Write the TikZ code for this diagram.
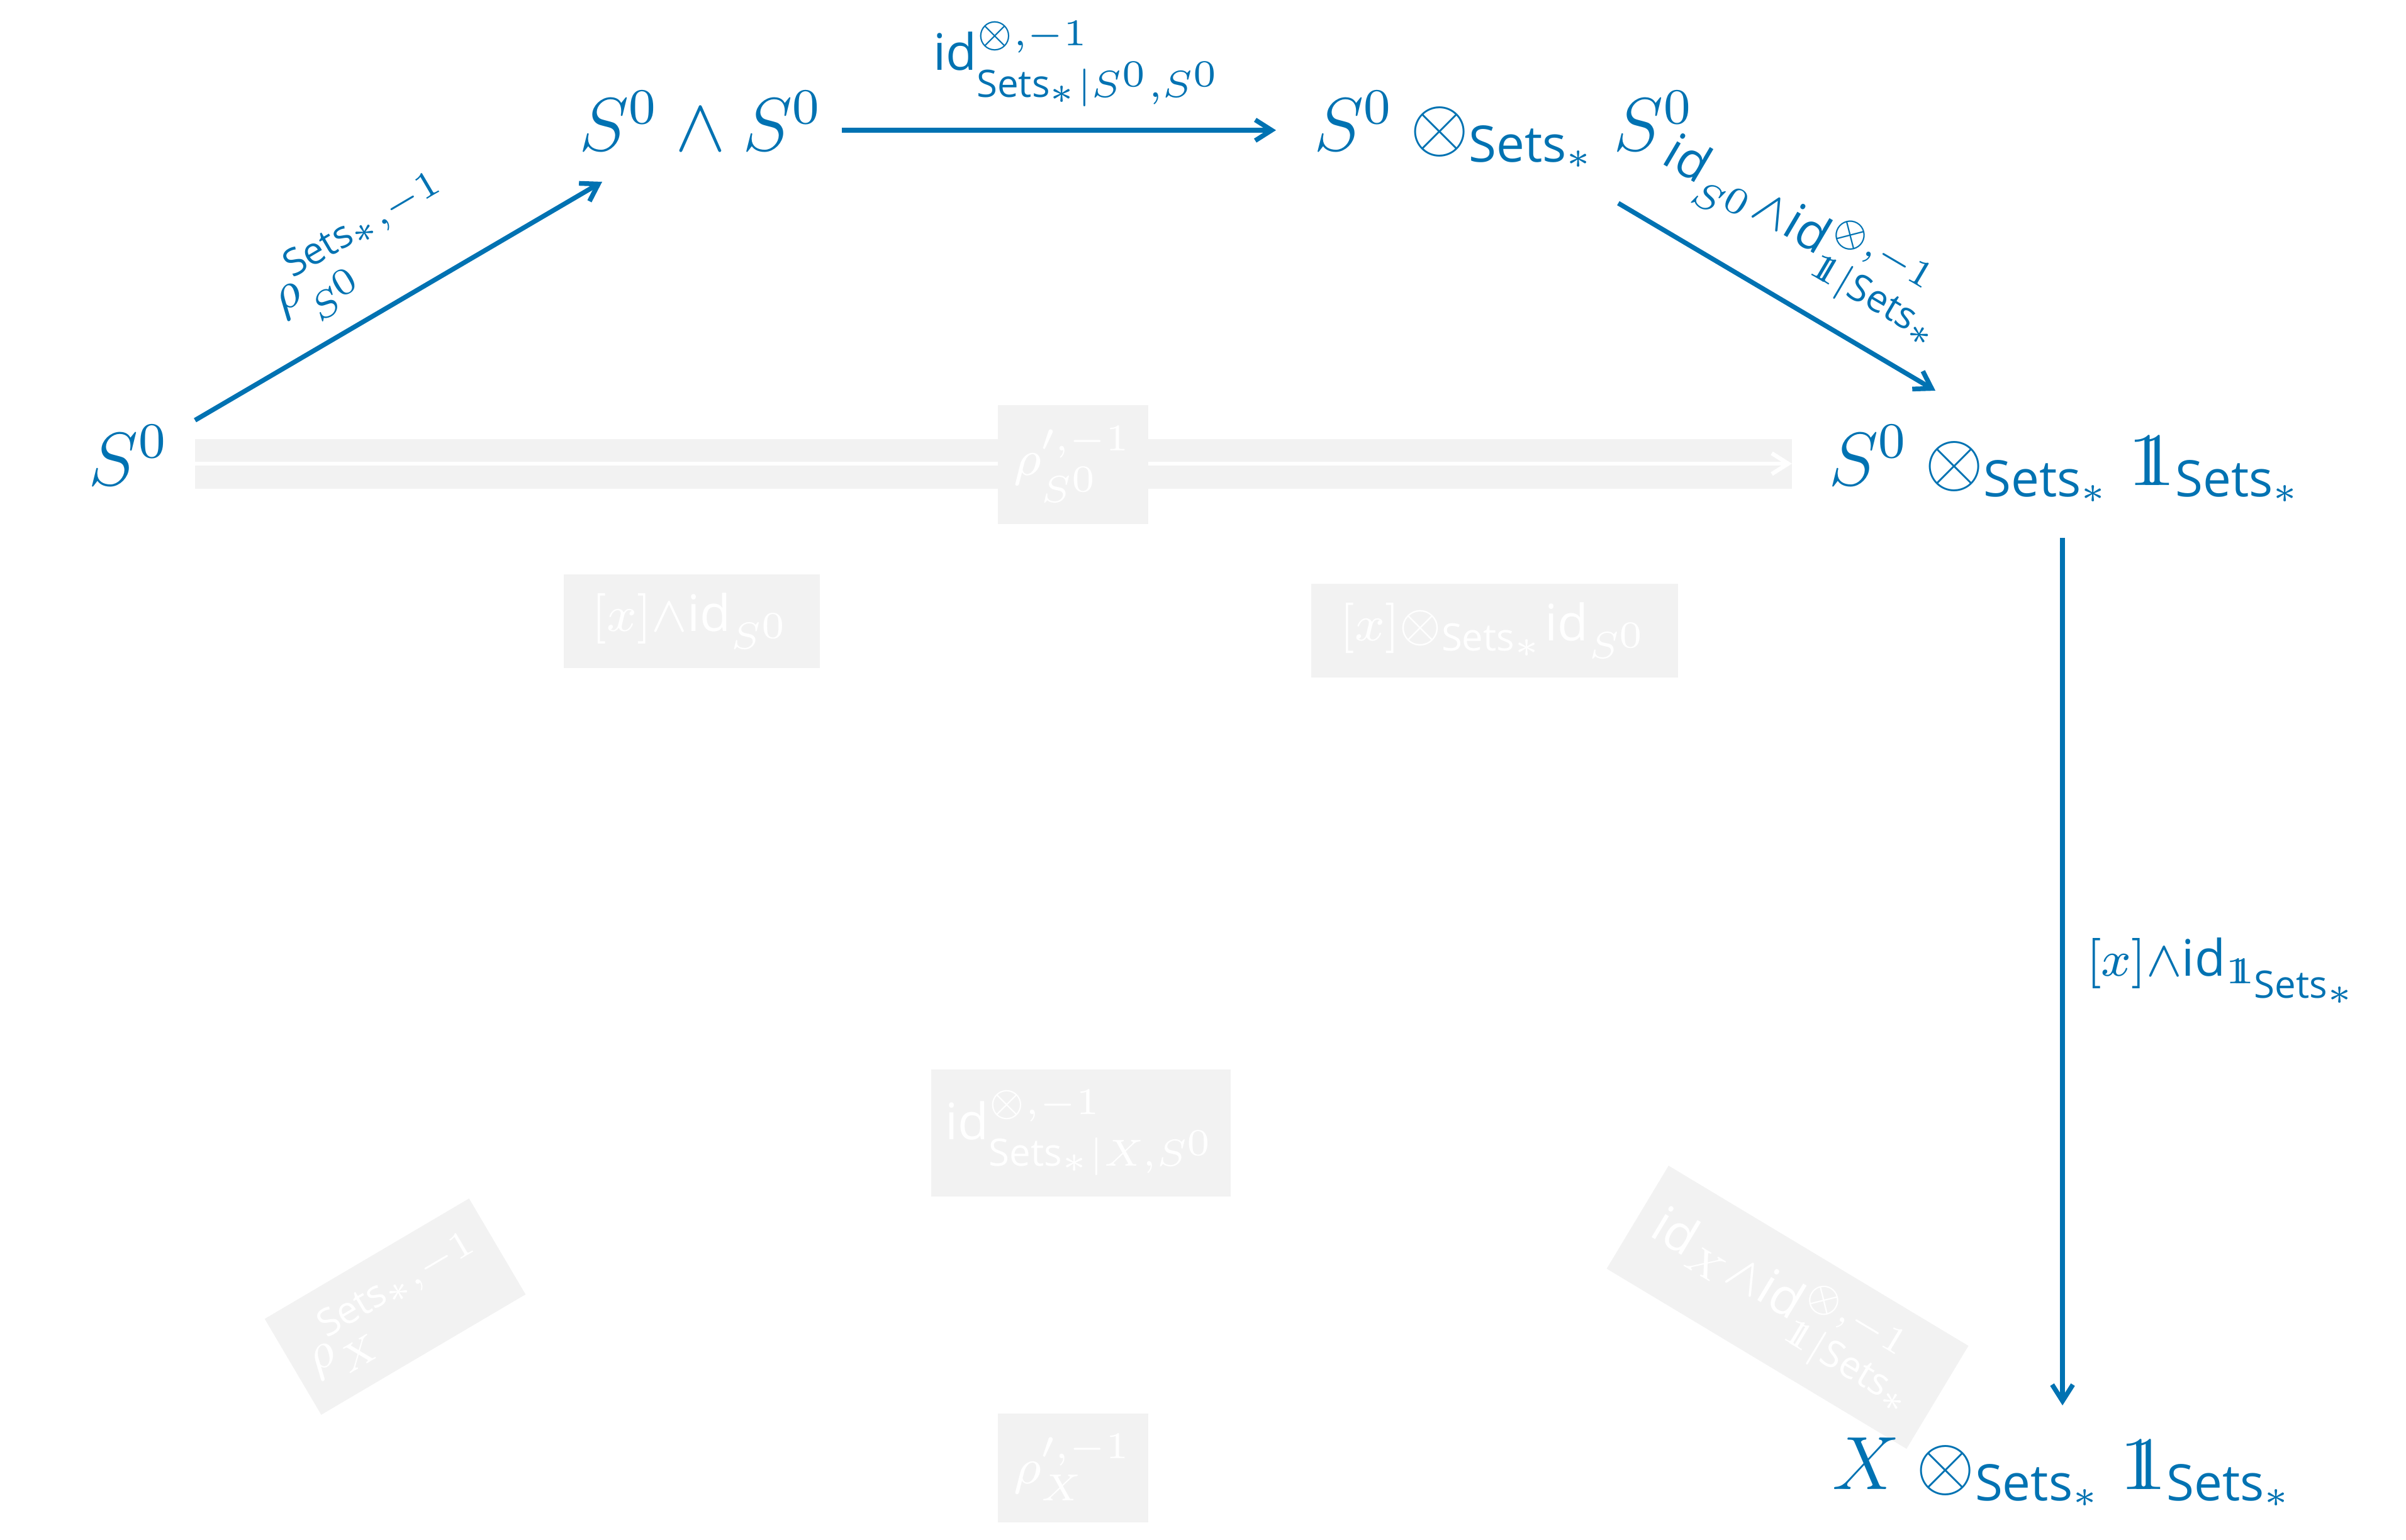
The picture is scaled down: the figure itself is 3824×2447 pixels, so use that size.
\documentclass[tikz,border=0pt]{standalone}
\usepackage{amsmath}
\usepackage{fontspec}
\setsansfont{Open Sans}
\usetikzlibrary{arrows.meta}
\definecolor{cdblue}{HTML}{0072B2}
\definecolor{ghost}{HTML}{F2F2F2}
\newcommand{\SetsT}{\text{\sffamily Sets}}
\newcommand{\idT}{\text{\sffamily id}}
\newcommand{\one}{\mathrm{1}\mkern-6.5mu\mathrm{1}}
\tikzset{
  obj/.style={text=cdblue, inner sep=0pt, anchor=base west},
  lbl/.style={text=cdblue, inner sep=0pt},
  cdarrow/.style={draw=cdblue, line width=0.75pt, -{Straight Barb[length=2.6pt,width=3.3pt]}},
  ghostbox/.style={fill=ghost, text=white, inner sep=0pt},
  ghostband/.style={draw=ghost, line width=7.9pt},
  ghostarrow/.style={draw=white, line width=0.65pt, -{Straight Barb[length=2.6pt,width=3.3pt]}},
}
\begin{document}
\begin{tikzpicture}[x=0.1pt,y=-0.1pt,font=\fontsize{12}{14.4}\selectfont]
\useasboundingbox (0,0) rectangle (3824,2447);

% ghosted double arrow
\coordinate (bandL) at (310,737);
\coordinate (bandR) at (2848,737);
\draw[ghostband] (bandL) -- (bandR);
\draw[ghostarrow] (bandL) -- (bandR);

% ghosted labels
\node[ghostbox, minimum width=23.9pt, minimum height=18.9pt] (g1) at (1705,738) {$\scriptstyle\rho^{\prime,-1}_{S^0}$};
\node[ghostbox, minimum width=40.7pt, minimum height=14.9pt] (g2) at (1099,987) {$\scriptstyle[x]\wedge\idT_{S^0}$};
\node[ghostbox, minimum width=58.3pt, minimum height=14.9pt] (g3) at (2375,1002) {$\scriptstyle[x]\otimes_{\SetsT_*}\idT_{S^0}$};
\node[ghostbox, minimum width=47.6pt, minimum height=20.2pt] (g4) at (1718,1801) {$\scriptstyle\idT^{\otimes,-1}_{\SetsT_*|X,S^0}$};
\node[ghostbox, minimum width=23.9pt, minimum height=17.3pt] (g5) at (1705,2333) {$\scriptstyle\rho^{\prime,-1}_{X}$};
\node[ghostbox, rotate=30.5, minimum width=37.7pt, minimum height=17.7pt] (g6) at (628,2077) {$\scriptstyle\rho^{\SetsT_*,-1}_{X}$};
\node[ghostbox, rotate=-31, minimum width=55.6pt, minimum height=19.1pt] (g7) at (2841,2078) {$\scriptstyle\idT_X\wedge\idT^{\otimes,-1}_{\one|\SetsT_*}$};

% objects
\node[obj] (s0) at (139,771) {$S^0$};
\node[obj] (sws) at (918,240) {$S^0\wedge S^0$};
\node[obj] (sts) at (2086,240) {$S^0\otimes_{\SetsT_*}S^0$};
\node[obj] (st1) at (2904,771) {$S^0\otimes_{\SetsT_*}\one_{\SetsT_*}$};
\node[obj] (xt1) at (2910,2367) {$X\otimes_{\SetsT_*}\one_{\SetsT_*}$};

% arrows
\coordinate (a1s) at (310,668);  \coordinate (a1e) at (957,289);
\coordinate (a2s) at (1338,207); \coordinate (a2e) at (2028,207);
\coordinate (a3s) at (2572,323); \coordinate (a3e) at (3076,621);
\coordinate (a4s) at (3278,855); \coordinate (a4e) at (3278,2234);
\draw[cdarrow] (a1s) -- (a1e);
\draw[cdarrow] (a2s) -- (a2e);
\draw[cdarrow] (a3s) -- (a3e);
\draw[cdarrow] (a4s) -- (a4e);

% arrow labels
\node[lbl, rotate=30.5] (l1) at (578,399) {$\scriptstyle\rho^{\SetsT_*,-1}_{S^0}$};
\node[lbl, anchor=base west] (l2) at (1481,112) {$\scriptstyle\idT^{\otimes,-1}_{\SetsT_*|S^0,S^0}$};
\node[lbl, rotate=-30.5] (l3) at (2872,378) {$\scriptstyle\idT_{S^0}\wedge\idT^{\otimes,-1}_{\one|\SetsT_*}$};
\node[lbl, anchor=base west] (l4) at (3314,1551) {$\scriptstyle[x]\wedge\idT_{\one_{\SetsT_*}}$};
\end{tikzpicture}
\end{document}
